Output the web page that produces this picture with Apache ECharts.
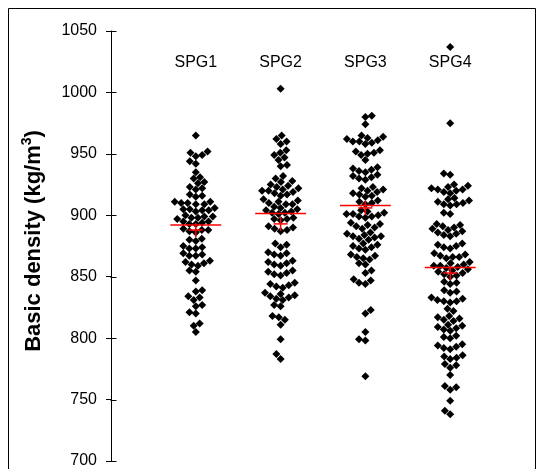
<!DOCTYPE html>
<html>
<head>
<meta charset="utf-8">
<script src="https://cdn.jsdelivr.net/npm/echarts@6/dist/echarts.min.js"></script>
<style>
  html, body { margin: 0; padding: 0; background: #fff; }
  #main { width: 544px; height: 469px; }
</style>
</head>
<body>
<div id="main"></div>
<script>
// Group names shown along the top of the plot
const categories = ['SPG1', 'SPG2', 'SPG3', 'SPG4'];

// Y axis range, step and tick values
const yMin = 700;
const yMax = 1050;
const yStep = 50;
const yTicks = [700, 750, 800, 850, 900, 950, 1000, 1050];

// Basic density of individual samples, kg/m3
const spg1 = [
  965,
  952, 951, 949, 948,
  944, 942,
  935,
  931, 930,
  927, 926,
  923, 922, 921,
  917, 916, 915,
  911, 911, 910, 910, 909, 909,
  906, 905, 905, 904, 904, 903,
  900, 899, 899, 898, 898, 897,
  895, 895, 894, 893, 893,
  889, 888, 888, 887, 886,
  881, 880, 879,
  875, 874, 873, 873,
  869, 868, 867, 867,
  863, 862, 861, 860, 859,
  855, 854,
  847,
  839, 838,
  834, 833, 831,
  827, 826,
  821, 820,
  812, 810,
  805
];

const spg2 = [
  1003,
  965, 962, 960, 958,
  953, 951, 949, 947, 945,
  941, 940,
  932, 930, 928, 927,
  925, 924, 923, 922, 921, 920, 920, 919, 918, 917, 916,
  913, 912, 911, 910, 909, 909,
  907, 906, 905, 904, 903, 902, 902, 901,
  898, 897, 897, 896,
  891, 890, 889, 888, 887,
  877, 876, 874,
  870, 869, 868, 867,
  863, 862, 861, 860, 859,
  855, 854, 853, 852, 851,
  845, 844, 843, 842, 841,
  837, 836, 835, 834, 833, 832, 831,
  827, 826,
  818, 817, 815,
  811,
  799,
  787, 783
];

const spg3 = [
  981, 980,
  974,
  965, 964, 963, 962, 961, 960, 960, 959, 958,
  953, 952, 951, 950, 949,
  945,
  939, 938, 937, 936, 935, 933, 932, 931, 930, 929,
  923, 922, 921, 920, 919, 918, 917, 916, 915,
  912, 911, 910, 909,
  904, 903, 902, 901, 901, 900, 899, 899, 898,
  894, 893, 892, 891, 890, 889,
  886, 885, 884, 883, 883, 882, 881, 880,
  877, 876, 875, 874, 873, 872,
  868, 867, 866, 865, 864,
  861, 860,
  855, 853,
  848, 847, 845, 844,
  823, 820,
  805,
  799, 798,
  769
];

const spg4 = [
  1037,
  975,
  934, 933,
  925, 924, 923, 922, 921, 921, 920, 919, 918,
  914, 913, 912, 911, 910, 909, 909, 908,
  902, 901,
  893, 892, 891, 890, 889, 888, 887, 886, 885, 884, 883,
  877, 876, 875, 874, 873,
  869, 868, 867, 866, 866, 865,
  862, 861, 860, 859, 859, 858, 857, 856,
  855, 854, 853, 852, 851, 850,
  846, 845, 844,
  839, 838, 837,
  833, 832, 831, 830, 830, 829,
  824, 822,
  818, 817, 816, 815, 814,
  811, 810, 809, 808, 807, 806,
  802, 801, 800,
  795, 794, 793, 792, 791,
  786, 785, 784, 783,
  779, 778, 776,
  770,
  761, 760, 758,
  749,
  741, 738
];

// Group medians (red bar) and means (red cross)
const medians = [892, 901.5, 908, 857.5];
const means = [888, 893, 906, 853];

const groups = [spg1, spg2, spg3, spg4];

const FONT = "'Liberation Sans', Arial, sans-serif";

const chart = echarts.init(document.getElementById('main'), null, { renderer: 'canvas' });

const tickStyle = { color: '#000', width: 1 };

const frame = {
  type: 'rect',
  id: 'frame',
  shape: { x: 8.5, y: 8.5, width: 527, height: 480 },
  style: { fill: 'none', stroke: '#000', lineWidth: 1 },
  silent: true,
  z: 100
};

const baseOption = {
  animation: false,
  backgroundColor: '#ffffff',
  grid: { left: 111, right: 9, top: 31, bottom: 7, containLabel: false },
  graphic: [frame],
  xAxis: {
    type: 'value',
    min: 0,
    max: 5,
    interval: 1,
    position: 'top',
    axisLine: { show: false },
    axisTick: { show: false },
    splitLine: { show: false },
    axisLabel: {
      inside: true,
      margin: 24,
      color: '#000',
      fontFamily: FONT,
      fontSize: 16,
      formatter: function (v) { return categories[v - 1] || ''; }
    }
  },
  yAxis: {
    type: 'value',
    min: yMin,
    max: yMax,
    interval: yStep,
    position: 'left',
    axisLine: { show: true, lineStyle: tickStyle },
    axisTick: { show: true, inside: false, length: 5, lineStyle: tickStyle },
    splitLine: { show: false },
    axisLabel: {
      margin: 14, color: '#000', fontFamily: FONT, fontSize: 16,
      formatter: function (v) { return String(v); }
    },
    name: '{t|Basic density (kg/m}{s|3}{t|)}',
    nameLocation: 'middle',
    nameRotate: 90,
    nameGap: 66,
    nameTextStyle: {
      padding: [0, 0, 0, 10],
      rich: {
        t: { color: '#000', fontFamily: FONT, fontSize: 22, fontWeight: 'bold', lineHeight: 25, verticalAlign: 'bottom' },
        s: { color: '#000', fontFamily: FONT, fontSize: 14, fontWeight: 'bold', lineHeight: 25, verticalAlign: 'top' }
      }
    }
  },
  series: []
};

chart.setOption(baseOption);

// Pixel size of one unit on each axis, used to lay the dots out without overlap
const pA = chart.convertToPixel({ gridIndex: 0 }, [0, yMin]);
const pB = chart.convertToPixel({ gridIndex: 0 }, [1, yMin + yStep]);
const pxPerX = pB[0] - pA[0];
const pxPerY = (pA[1] - pB[1]) / yStep;

// Beeswarm: place each value (lowest first) at the horizontal offset nearest
// the group centre that does not collide with dots already placed.
function swarmOffsets(vals, r) {
  const order = vals.map((v, i) => i).sort((a, b) => vals[a] - vals[b]);
  const placed = [];
  const out = new Array(vals.length);
  let flip = 1;
  for (const i of order) {
    const y = vals[i] * pxPerY;
    const blocks = [];
    const cands = [0];
    for (const p of placed) {
      const dy = p.y - y;
      if (Math.abs(dy) < r) {
        const dx = Math.sqrt(r * r - dy * dy);
        blocks.push([p.x - dx, p.x + dx]);
        cands.push(p.x - dx, p.x + dx);
      }
    }
    cands.sort((a, b) => {
      const d = Math.abs(a) - Math.abs(b);
      if (Math.abs(d) > 1e-6) return d;
      return flip * (a - b);
    });
    let best = 0;
    for (const c of cands) {
      if (blocks.every(([a, b]) => c <= a + 1e-6 || c >= b - 1e-6)) { best = c; break; }
    }
    if (best !== 0) flip = -flip;
    placed.push({ x: best, y: y });
    out[i] = best / pxPerX;
  }
  return out;
}

const RADIUS = 6.5;
const dotData = [];
groups.forEach((vals, g) => {
  const offs = swarmOffsets(vals, RADIUS);
  vals.forEach((v, k) => dotData.push([g + 1 + offs[k], v]));
});

const summaryData = categories.map((c, g) => [g + 1, medians[g], means[g]]);

// Inward half of each y tick, placed through the axis scale, so ticks cross the axis line
const innerTicks = yTicks.map(function (v, i) {
  const p = chart.convertToPixel({ gridIndex: 0 }, [0, v]);
  const x = Math.round(p[0]) + 0.5;
  const y = Math.round(p[1]) + 0.5;
  return {
    type: 'line',
    id: 'tick' + i,
    silent: true,
    z: 50,
    shape: { x1: x - 1, y1: y, x2: x + 5, y2: y },
    style: { stroke: '#000', lineWidth: 1 }
  };
});

chart.setOption({
  graphic: [frame].concat(innerTicks),
  series: [{
    name: 'samples',
    type: 'scatter',
    symbol: 'diamond',
    symbolSize: 8,
    itemStyle: { color: '#000', opacity: 1 },
    data: dotData,
    z: 2
  }, {
    name: 'median and mean',
    type: 'custom',
    z: 3,
    data: summaryData,
    renderItem: function (params, api) {
      const x = api.value(0);
      const med = api.value(1);
      const mean = api.value(2);
      const l = api.coord([x - 0.3, med]);
      const r = api.coord([x + 0.3, med]);
      const c = api.coord([x, mean]);
      const arm = 7;
      const style = { stroke: '#ff0000', lineWidth: 1.5 };
      return {
        type: 'group',
        children: [
          { type: 'line', shape: { x1: l[0], y1: l[1], x2: r[0], y2: r[1] }, style: style },
          { type: 'line', shape: { x1: c[0] - arm, y1: c[1], x2: c[0] + arm, y2: c[1] }, style: style },
          { type: 'line', shape: { x1: c[0], y1: c[1] - arm, x2: c[0], y2: c[1] + arm }, style: style }
        ]
      };
    }
  }]
});
</script>
</body>
</html>
